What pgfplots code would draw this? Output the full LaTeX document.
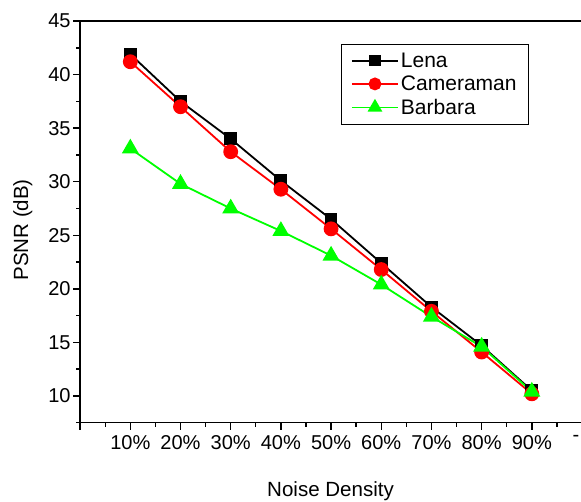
\documentclass[border=0pt]{standalone}
\usepackage{fontspec}
\setmainfont{Liberation Sans}
\usepackage{pgfplots}
\pgfplotsset{compat=1.18}
\begin{document}
\begin{tikzpicture}
\begin{axis}[
  scale only axis,
  width=501pt, height=401pt,
  xmin=0, xmax=10, ymin=7.5, ymax=45,
  xtick={0,1,2,3,4,5,6,7,8,9,10},
  xticklabels={,10\%,20\%,30\%,40\%,50\%,60\%,70\%,80\%,90\%,\hspace*{-12pt}-},
  minor xtick={0.5,1.5,...,9.5},
  ytick={10,15,20,25,30,35,40,45},
  minor ytick={7.5,12.5,...,42.5},
  tick align=outside,
  xtick pos=bottom, ytick pos=left,
  major tick length=7pt, minor tick length=4pt,
  every tick/.style={black, line width=1.4pt},
  axis line style={black, line width=1.5pt},
  /pgf/number format/assume math mode=true,
  tick label style={font=\fontsize{20}{24}\selectfont},
  xticklabel style={yshift=-2pt},
  yticklabel style={xshift=1pt},
  xlabel={Noise Density}, ylabel={PSNR (dB)},
  label style={font=\fontsize{20.5}{24}\selectfont},
  xlabel style={at={(axis description cs:0.499,-0.17)}, anchor=center},
  ylabel style={at={(axis description cs:-0.114,0.48)}, anchor=center},
  legend style={at={(axis description cs:0.519,0.943)}, anchor=north west,
    draw=black, line width=0.8pt, font=\fontsize{21}{24}\selectfont,
    row sep=3pt, inner xsep=10pt, inner ysep=6.5pt},
  legend cell align=left,
  legend image code/.code={
    \draw[mark repeat=2,mark phase=2, every mark/.append style={scale=0.85}] plot coordinates {(0pt,0pt) (23pt,0pt) (46pt,0pt)};},
]
\addplot[black, line width=1.8pt, mark=square*, mark size=5.5pt, mark options={solid}]
  coordinates {(1,41.9) (2,37.5) (3,34.0) (4,30.1) (5,26.5) (6,22.4) (7,18.3) (8,14.7) (9,10.5)};
\addlegendentry{Lena}
\addplot[red, line width=1.8pt, mark=*, mark size=6.5pt, mark options={solid}]
  coordinates {(1,41.2) (2,37.0) (3,32.8) (4,29.3) (5,25.6) (6,21.8) (7,17.9) (8,14.1) (9,10.2)};
\addlegendentry{Cameraman}
\addplot[green, line width=1.8pt, mark=triangle*, mark size=8pt, mark options={solid}]
  coordinates {(1,33.1) (2,29.8) (3,27.5) (4,25.4) (5,23.1) (6,20.4) (7,17.4) (8,14.6) (9,10.4)};
\addlegendentry{Barbara}
\end{axis}
\pgfresetboundingbox
\useasboundingbox ([shift={(-80pt,-79pt)}]current axis.south west) rectangle ([shift={(-1pt,21pt)}]current axis.north east);
\end{tikzpicture}
\end{document}
